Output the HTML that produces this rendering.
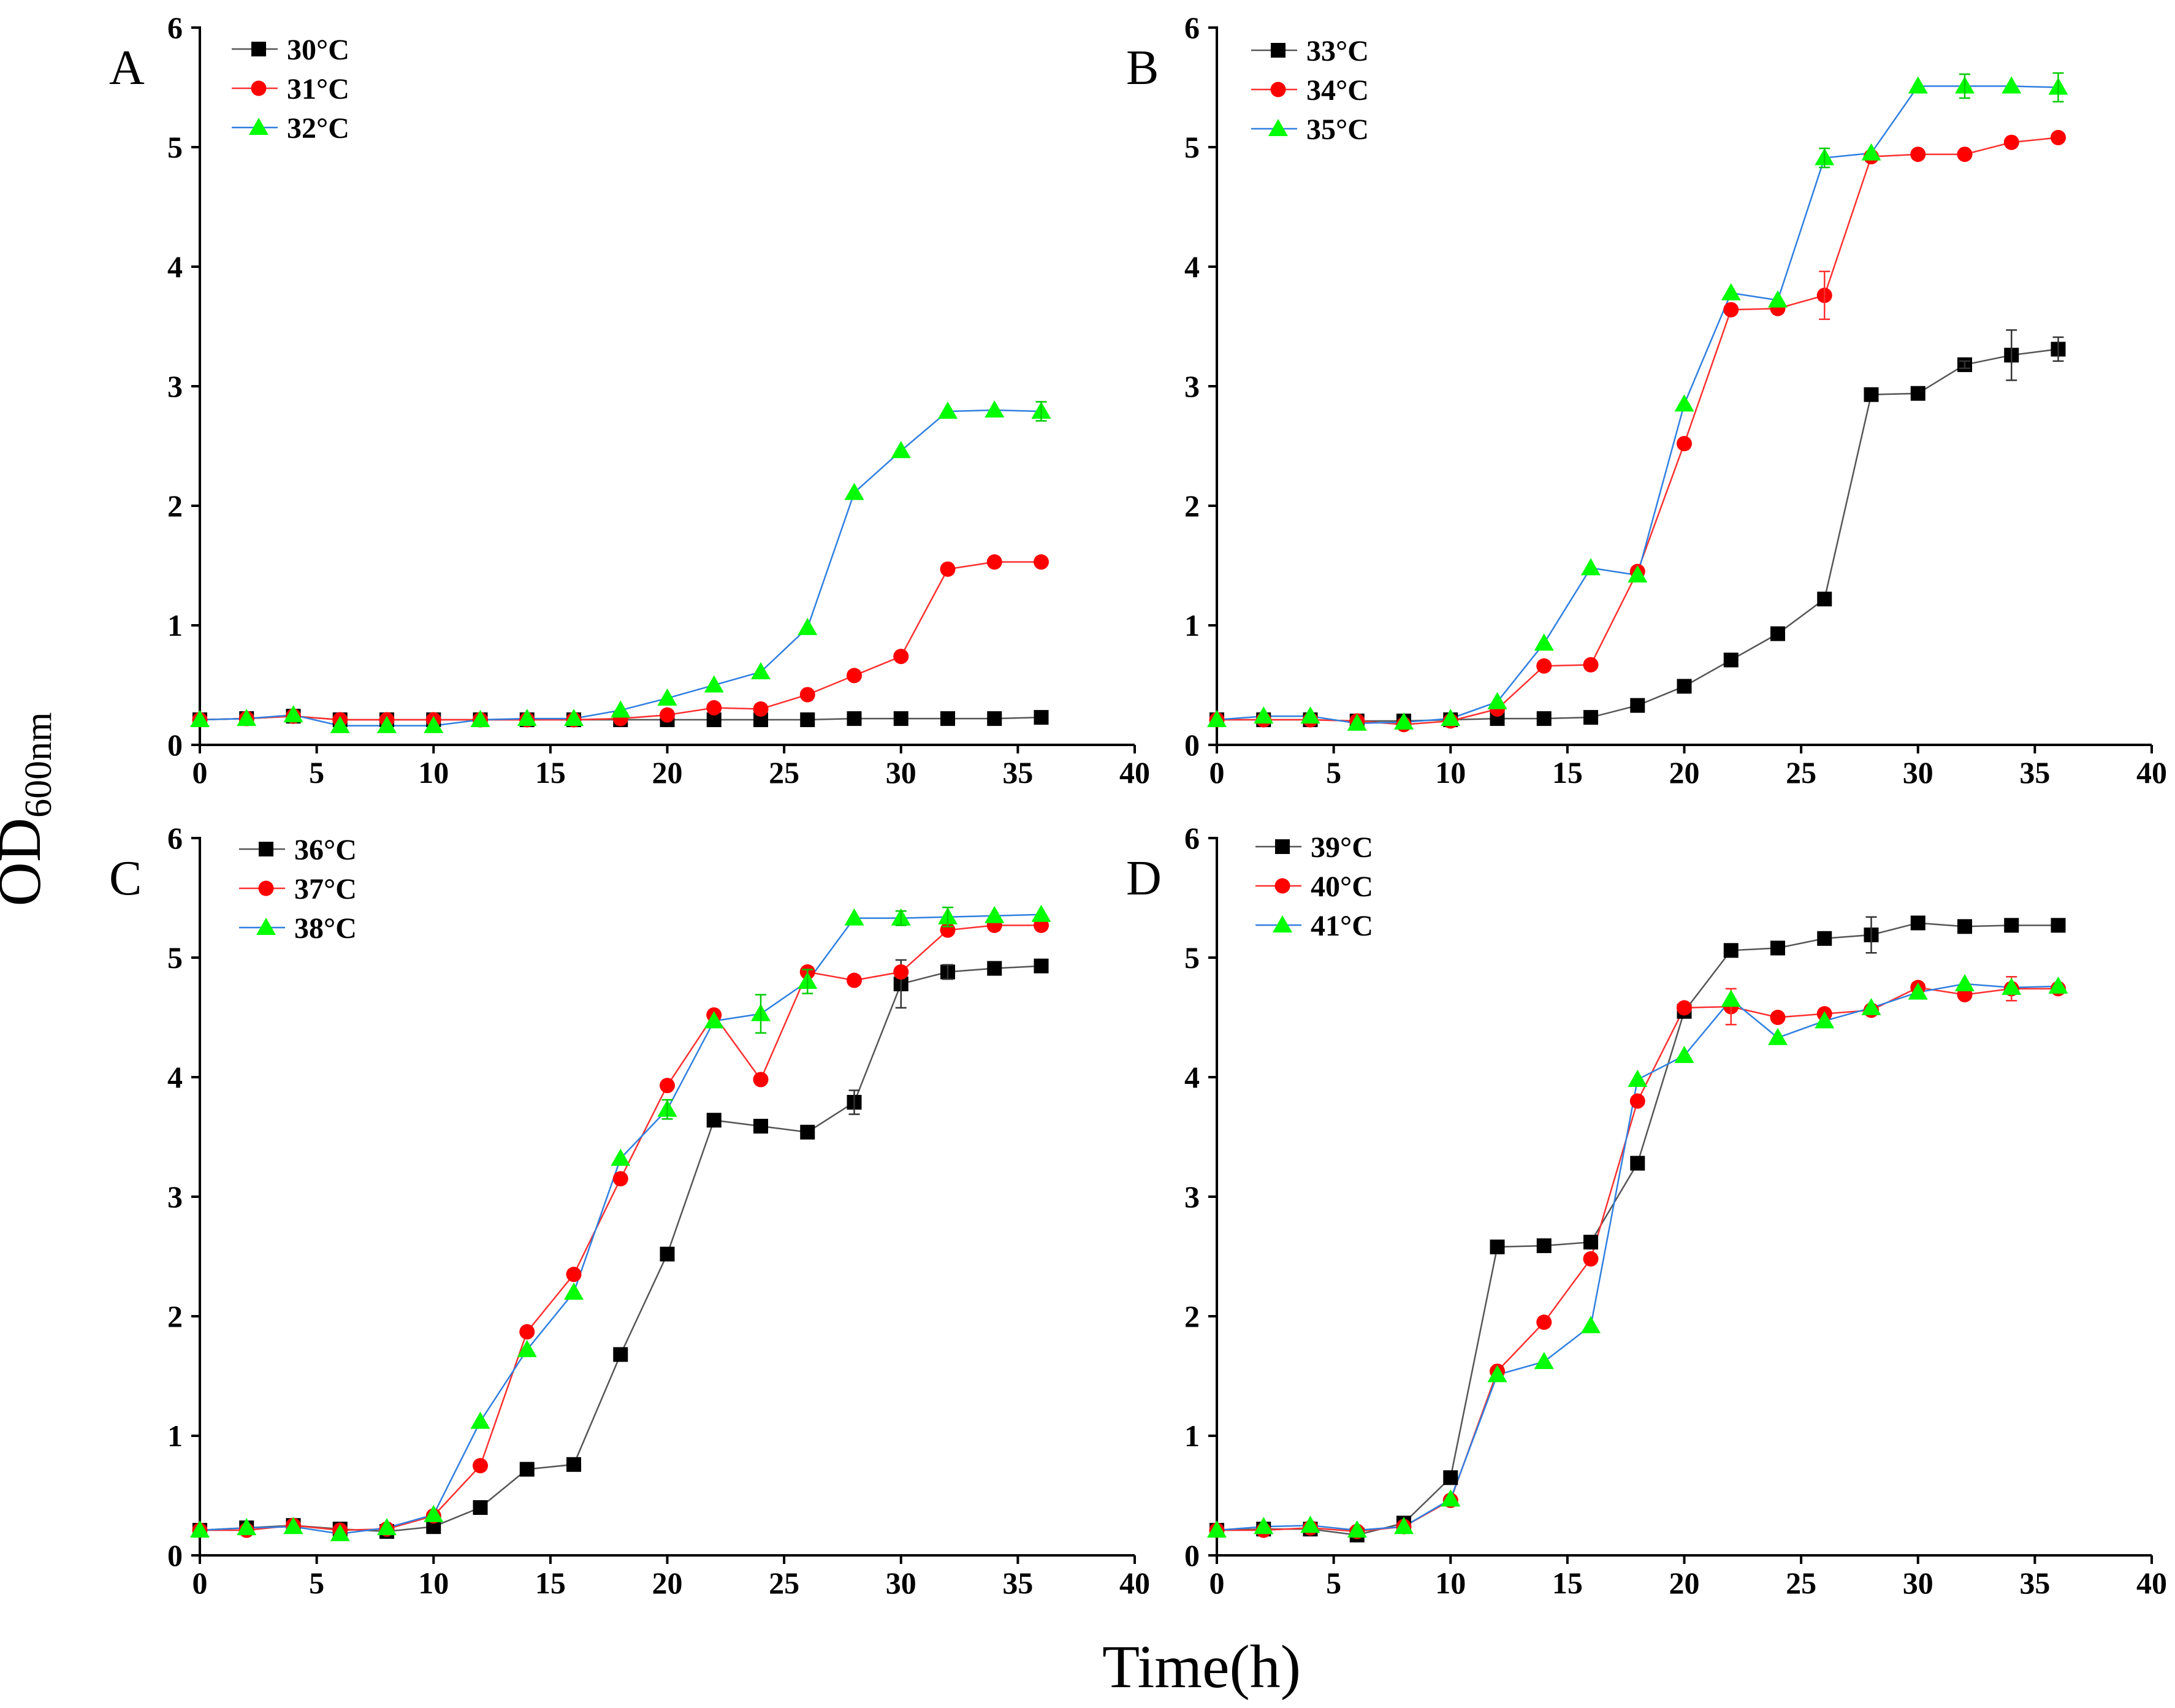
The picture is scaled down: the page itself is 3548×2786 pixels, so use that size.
<!DOCTYPE html>
<html><head><meta charset="utf-8"><style>
html,body{margin:0;padding:0;background:#fff}
svg{display:block}
text{font-family:"Liberation Serif","Times New Roman",serif}
</style></head><body>
<svg id="c" width="3548" height="2786" viewBox="0 0 3548 2786" xmlns="http://www.w3.org/2000/svg">
<text x="65" y="1320" font-size="100" transform="rotate(-90 65 1320)" text-anchor="middle">OD<tspan font-size="62" dy="18">600nm</tspan></text>
<text x="1960" y="2752" font-size="100" text-anchor="middle">Time(h)</text>
</svg>
<script>
const times=[0,2,4,6,8,10,12,14,16,18,20,22,24,26,28,30,32,34,36];
const xTicks=[0,5,10,15,20,25,30,35,40];
const yTicks=[0,1,2,3,4,5,6];
const labelsA=["30°C","31°C","32°C"];
const labelsB=["33°C","34°C","35°C"];
const labelsC=["36°C","37°C","38°C"];
const labelsD=["39°C","40°C","41°C"];
const a30=[0.21,0.22,0.24,0.21,0.21,0.21,0.21,0.21,0.21,0.21,0.21,0.21,0.21,0.21,0.22,0.22,0.22,0.22,0.23];
const a31=[0.21,0.22,0.24,0.21,0.21,0.21,0.21,0.21,0.21,0.22,0.25,0.31,0.30,0.42,0.58,0.74,1.47,1.53,1.53];
const a32=[0.21,0.22,0.25,0.16,0.16,0.16,0.21,0.22,0.22,0.29,0.39,0.50,0.61,0.98,2.11,2.46,2.79,2.80,2.79];
const b33=[0.21,0.21,0.21,0.20,0.20,0.21,0.22,0.22,0.23,0.33,0.49,0.71,0.93,1.22,2.93,2.94,3.18,3.26,3.31];
const b34=[0.21,0.21,0.21,0.20,0.17,0.20,0.30,0.66,0.67,1.45,2.52,3.64,3.65,3.76,4.92,4.94,4.94,5.04,5.08];
const b35=[0.21,0.24,0.24,0.18,0.19,0.22,0.36,0.85,1.48,1.42,2.85,3.78,3.72,4.91,4.95,5.51,5.51,5.51,5.50];
const c36=[0.21,0.23,0.25,0.22,0.20,0.24,0.40,0.72,0.76,1.68,2.52,3.64,3.59,3.54,3.79,4.78,4.88,4.91,4.93];
const c37=[0.21,0.21,0.25,0.21,0.22,0.33,0.75,1.87,2.35,3.15,3.93,4.52,3.98,4.88,4.81,4.88,5.23,5.27,5.27];
const c38=[0.21,0.23,0.24,0.18,0.23,0.34,1.12,1.72,2.20,3.32,3.73,4.47,4.53,4.80,5.33,5.33,5.34,5.35,5.36];
const d39=[0.21,0.22,0.22,0.17,0.27,0.65,2.58,2.59,2.62,3.28,4.55,5.06,5.08,5.16,5.19,5.29,5.26,5.27,5.27];
const d40=[0.21,0.21,0.23,0.20,0.24,0.46,1.54,1.95,2.48,3.80,4.58,4.59,4.50,4.53,4.56,4.75,4.69,4.74,4.74];
const d41=[0.21,0.24,0.25,0.21,0.24,0.47,1.51,1.62,1.92,3.98,4.18,4.65,4.33,4.47,4.58,4.71,4.78,4.75,4.76];
const errB33=[0,0,0,0,0,0,0,0,0,0,0,0,0,0,0,0,0.03,0.21,0.1];
const errB34=[0,0,0,0,0,0,0,0,0,0,0,0,0,0.2,0,0,0,0,0];
const errB35=[0,0,0,0,0,0,0,0,0,0,0,0,0,0.08,0,0,0.1,0,0.12];
const errC36=[0,0,0,0,0,0,0,0,0,0,0,0,0,0,0.1,0.2,0.06,0,0];
const errC38=[0,0,0,0,0,0,0,0,0,0,0.08,0,0.16,0.1,0,0.06,0.08,0,0];
const errD39=[0,0,0,0,0,0,0,0,0,0,0,0,0,0,0.15,0,0,0,0];
const errD40=[0,0,0,0,0,0,0,0,0,0,0,0.15,0,0,0,0,0,0.1,0];
const errA32=[0,0,0,0,0,0,0,0,0,0,0,0,0,0,0,0,0,0,0.08];
const zero=times.map(()=>0);

const NS="http://www.w3.org/2000/svg";
const svg=document.getElementById('c');
function mk(tag,attrs,parent){const e=document.createElementNS(NS,tag);for(const k in attrs)e.setAttribute(k,attrs[k]);(parent||svg).appendChild(e);return e;}
const styles=[{line:"#555",fill:"#000",m:"sq"},{line:"#ff3030",fill:"#ff0000",m:"ci"},{line:"#2f7fe0",fill:"#00ff00",m:"tr"}];

function marker(g,type,x,y,fill){
  let e;
  if(type==="sq") e=mk('rect',{x:x-12,y:y-12,width:24,height:24,fill:fill},g);
  else if(type==="ci") e=mk('circle',{cx:x,cy:y,r:12.5,fill:fill},g);
  else e=mk('polygon',{points:`${x},${y-16} ${x-16},${y+12} ${x+16},${y+12}`,fill:fill},g);
  return e;
}

function panel(id,letter,x0,x1,y0,y6,series,errs,labels,leg){
  const g=mk('g',{});
  
  
  const X=v=>x0+(x1-x0)*v/40;
  const Y=v=>y0-(y0-y6)*v/6;
  const ax=mk('path',{d:`M${x0},${y6-2} V${y0} H${x1}`,stroke:"#000","stroke-width":4,fill:"none"},g);
  
  
  xTicks.forEach(t=>{
    mk('line',{x1:X(t),x2:X(t),y1:y0,y2:y0+14,stroke:"#000","stroke-width":4},g);
    const tx=mk('text',{x:X(t),y:y0+62,"font-size":50,"font-weight":"bold","text-anchor":"middle"},g);
    tx.textContent=t;
    
    
  });
  yTicks.forEach(t=>{
    mk('line',{x1:x0-14,x2:x0,y1:Y(t),y2:Y(t),stroke:"#000","stroke-width":4},g);
    const tx=mk('text',{x:x0-28,y:Y(t)+17,"font-size":50,"font-weight":"bold","text-anchor":"end"},g);
    tx.textContent=t;
    
    
  });
  const lt=mk('text',{x:x0-148,y:y6+92,"font-size":80},g);
  lt.textContent=letter;
  
  
  series.forEach((s,i)=>{
    const st=styles[i];
    const pts=s.map((v,j)=>X(times[j])+","+Y(v)).join(" ");
    const pl=mk('polyline',{points:pts,fill:"none",stroke:st.line,"stroke-width":2.5},g);
    
    
  });
  series.forEach((s,i)=>{
    const st=styles[i];
    s.forEach((v,j)=>{
      const m=marker(g,st.m,X(times[j]),Y(v),st.fill);
      
      
      const e=errs[i][j];
      if(e>0){
        const cx=X(times[j]);
        mk('path',{d:`M${cx},${Y(v+e)}V${Y(v-e)}M${cx-9},${Y(v+e)}H${cx+9}M${cx-9},${Y(v-e)}H${cx+9}`,stroke:st.m==="tr"?"#00cc00":st.m==="ci"?"#ff3030":"#333","stroke-width":2.5,fill:"none"},g);
      }
    });
  });
  labels.forEach((l,i)=>{
    const st=styles[i];
    const ly=leg[1]+i*64;
    const lg=mk('g',{},g);
    
    
    mk('line',{x1:leg[0],x2:leg[0]+75,y1:ly,y2:ly,stroke:st.line,"stroke-width":2.5},lg);
    marker(lg,st.m,leg[0]+44,ly,st.fill);
    const t=mk('text',{x:leg[0]+90,y:ly+17,"font-size":48,"font-weight":"bold"},lg);
    t.textContent=l;
  });
}
panel('a','A',326,1851,1215,45,[a30,a31,a32],[zero,zero,errA32],labelsA,[378,80]);
panel('b','B',1985,3510,1215,45,[b33,b34,b35],[errB33,errB34,errB35],labelsB,[2041,82]);
panel('c','C',326,1851,2537,1367,[c36,c37,c38],[errC36,zero,errC38],labelsC,[390,1385]);
panel('d','D',1985,3510,2537,1367,[d39,d40,d41],[errD39,errD40,zero],labelsD,[2048,1381]);
</script>
</body></html>
